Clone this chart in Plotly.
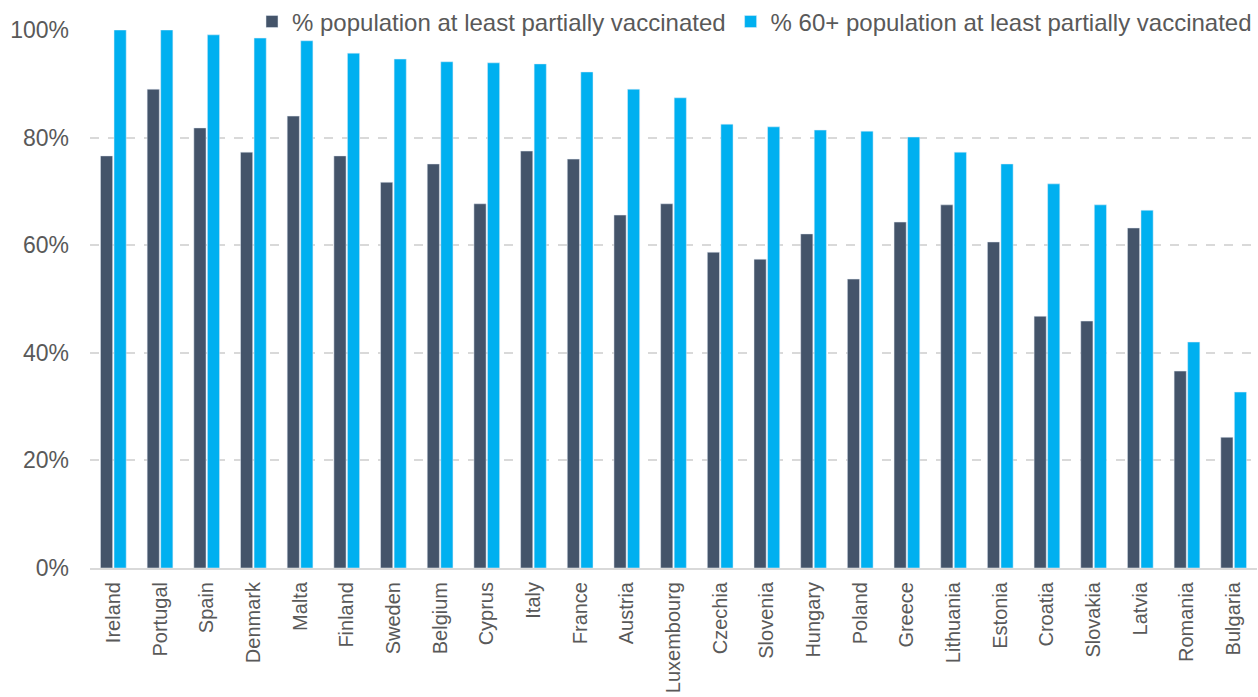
import plotly.graph_objects as go

countries = ["Ireland", "Portugal", "Spain", "Denmark", "Malta", "Finland", "Sweden",
             "Belgium", "Cyprus", "Italy", "France", "Austria", "Luxembourg", "Czechia",
             "Slovenia", "Hungary", "Poland", "Greece", "Lithuania", "Estonia", "Croatia",
             "Slovakia", "Latvia", "Romania", "Bulgaria"]

pop_vacc = [76.6, 89.0, 81.8, 77.3, 84.0, 76.6, 71.7, 75.1, 67.7, 77.5, 76.0, 65.6, 67.7,
            58.7, 57.4, 62.1, 53.7, 64.3, 67.5, 60.6, 46.8, 45.9, 63.2, 36.6, 24.3]

pop60_vacc = [100.0, 100.0, 99.1, 98.5, 98.0, 95.7, 94.6, 94.1, 93.9, 93.7, 92.2, 89.0, 87.4,
              82.5, 82.0, 81.4, 81.2, 80.1, 77.3, 75.1, 71.4, 67.5, 66.5, 42.0, 32.7]

y_ticks = [0, 20, 40, 60, 80, 100]
y_tick_labels = [f"{v}%" for v in y_ticks]

FONT = "Arial"

fig = go.Figure()
fig.add_trace(go.Bar(x=countries, y=pop_vacc, name="% population at least partially vaccinated",
                     marker=dict(color="#44546A")))
fig.add_trace(go.Bar(x=countries, y=pop60_vacc, name="% 60+ population at least partially vaccinated",
                     marker=dict(color="#00B0F0")))

fig.update_layout(
    width=1258, height=697,
    margin=dict(l=90, r=1, t=30, b=129, autoexpand=False),
    paper_bgcolor="white", plot_bgcolor="white",
    barmode="group", bargap=0.42, bargroupgap=0.1,
    font=dict(family=FONT, size=20, color="#595959"),
    legend=dict(orientation="h", x=1.0, xanchor="right", y=1.015, yanchor="middle",
                bgcolor="rgba(255,255,255,0)", font=dict(family=FONT, size=24, color="#595959"),
                itemwidth=30, traceorder="normal"),
    showlegend=True,
)
fig.update_xaxes(tickangle=-90, showgrid=False, showline=True, linecolor="#D9D9D9",
                 linewidth=2, ticks="", automargin=False, ticklabelstandoff=4,
                 tickfont=dict(family=FONT, size=20, color="#595959"))
fig.update_yaxes(range=[0, 100], tickmode="array", tickvals=y_ticks, ticktext=y_tick_labels,
                 showgrid=True, gridcolor="#D9D9D9", griddash="dash", gridwidth=1.5,
                 zeroline=False, showline=False, ticks="", ticklabelstandoff=20,
                 automargin=False, tickfont=dict(family=FONT, size=23, color="#595959"))

fig.write_html("out.html")
